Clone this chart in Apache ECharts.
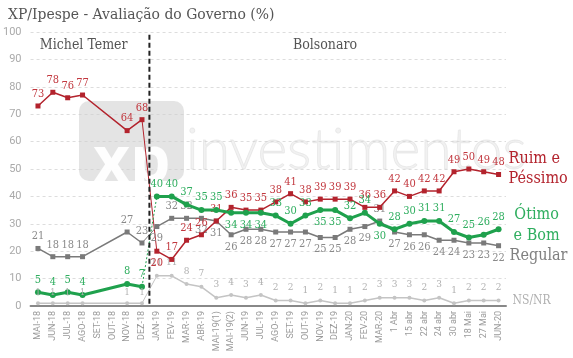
<!DOCTYPE html>
<html><head><meta charset="utf-8">
<script src="https://cdn.jsdelivr.net/npm/echarts@6/dist/echarts.min.js"></script>
<style>html,body{margin:0;padding:0;background:#fff}#c{width:573px;height:358px}</style>
</head><body><div id="c"></div>
<script>
const categories = ["MAI-18","JUN-18","JUL-18","AGO-18","SET-18","OUT-18","NOV-18","DEZ-18",
  "JAN-19","FEV-19","MAR-19","ABR-19","MAI-19(1)","MAI-19(2)","JUN-19","JUL-19","AGO-19","SET-19",
  "OUT-19","NOV-19","DEZ-19","JAN-20","FEV-20","MAR-20","1 Abr","15 abr","22 abr","24 abr","30 abr",
  "18 Mai","27 Mai","JUN-20"];
const yTicks = [0,10,20,30,40,50,60,70,80,90,100];

// Temer period (MAI-18 .. DEZ-18)
const ruimTemer   = [73,78,76,77,null,null,64,68];
const otimoTemer  = [5,4,5,4,null,null,8,7];
const regularTemer= [21,18,18,18,null,null,27,23];
const nsnrTemer   = [1,1,1,1,null,null,1,1];

// Bolsonaro period (JAN-19 .. JUN-20)
const ruimBolso   = [20,17,24,26,31,36,35,35,38,41,38,39,39,39,36,36,42,40,42,42,49,50,49,48];
const otimoBolso  = [40,40,37,35,35,34,34,34,33,30,33,35,35,32,34,30,28,30,31,31,27,25,26,28];
const regularBolso= [29,32,32,32,31,26,28,28,27,27,27,25,25,28,29,31,27,26,26,24,24,23,23,22];
const nsnrBolso   = [11,11,8,7,3,4,3,4,2,2,1,2,1,1,2,3,3,3,2,3,1,2,2,2];

const seriesNames = ["Ruim e\nPéssimo","Ótimo\ne Bom","Regular","NS/NR"];
const periodNames = ["Michel Temer","Bolsonaro"];

const nT = ruimTemer.length, nB = ruimBolso.length;
function temerFull(a){ return a.concat(new Array(nB).fill(null)); }
function bolsoFull(a, posMap){
  const d = new Array(nT).fill(null);
  a.forEach((v,i)=>{ d.push(posMap && posMap[i] ? {value:v,label:posMap[i]} : v); });
  return d;
}
function bridge(t,b){
  const d = new Array(nT+nB).fill(null);
  d[nT-1] = t[t.length-1]; d[nT] = b[0]; return d;
}

const SERIF = "'DejaVu Serif Condensed','Liberation Serif',serif";
const RED='#b3232d', REDL='#c2383f', GRN='#1fa14d', GRNL='#2fae5f', GRY='#7a7a7a', GRYL='#8a8a8a', NS='#c4c4c4', NSL='#b0b0b0';
const TOP={position:'top'}, BOT={position:'bottom'};

function lbl(color,pos,extra){ return Object.assign({show:true,position:pos||'top',color:color,fontSize:11,fontFamily:SERIF,distance:4},extra||{}); }

const chart = echarts.init(document.getElementById('c'));
const option = {
  animation:false,
  title:{text:'XP/Ipespe - Avaliação do Governo (%)',left:3,top:2,textStyle:{fontFamily:SERIF,fontSize:15.5,fontWeight:'normal',color:'#555'}},
  grid:{left:30,right:67,top:32,bottom:52},
  xAxis:{type:'category',data:categories,boundaryGap:true,
    axisLine:{lineStyle:{color:'#888',width:2}},axisTick:{show:false},
    axisLabel:{rotate:90,interval:0,fontSize:9,color:'#9a9a9a',margin:5,fontFamily:"'Liberation Sans Narrow','Roboto',sans-serif"}},
  yAxis:{type:'value',min:0,max:100,interval:10,
    axisLine:{show:false},axisTick:{show:false},
    axisLabel:{color:'#aaa',fontSize:11,margin:9,fontFamily:'Roboto',formatter:v=>yTicks.includes(v)?String(v):''},
    splitLine:{lineStyle:{type:[3,3],color:'#ddd'}}},
  series:[
    // bridges
    {type:'line',data:bridge(ruimTemer,ruimBolso),symbol:'none',lineStyle:{color:RED,width:1},z:3},
    {type:'line',data:bridge(otimoTemer,otimoBolso),symbol:'none',lineStyle:{color:GRN,width:1,type:[2,2]},z:3},
    {type:'line',data:bridge(regularTemer,regularBolso),symbol:'none',lineStyle:{color:GRY,width:1},z:3},
    {type:'line',data:bridge(nsnrTemer,nsnrBolso),symbol:'none',lineStyle:{color:NS,width:1},z:3},
    // Temer
    {type:'line',data:temerFull(nsnrTemer),connectNulls:true,symbol:'circle',symbolSize:4,itemStyle:{color:NS},lineStyle:{color:NS,width:1.5},label:lbl(NSL,'top',{fontSize:9}),labelLayout:{hideOverlap:false},z:8},
    {type:'line',data:temerFull(regularTemer),connectNulls:true,symbol:'rect',symbolSize:5,itemStyle:{color:GRY},lineStyle:{color:GRY,width:1.5},label:lbl(GRYL,'top'),z:5},
    {type:'line',data:temerFull(ruimTemer),connectNulls:true,symbol:'rect',symbolSize:5,itemStyle:{color:RED},lineStyle:{color:RED,width:1.5},label:lbl(REDL,'top'),z:6},
    {type:'line',data:temerFull(otimoTemer),connectNulls:true,symbol:'circle',symbolSize:6,itemStyle:{color:GRN},lineStyle:{color:GRN,width:3},label:lbl(GRNL,'top'),z:7},
    // Bolsonaro
    {type:'line',data:bolsoFull(nsnrBolso),symbol:'circle',symbolSize:4,itemStyle:{color:NS},lineStyle:{color:NS,width:1.5},label:lbl(NSL,'top',{fontSize:10,distance:6}),z:4,
      endLabel:{show:true,formatter:seriesNames[3],color:NSL,fontSize:12,fontFamily:SERIF,offset:[6,0]}},
    {type:'line',data:bolsoFull(regularBolso,{1:TOP,2:TOP,15:TOP}),symbol:'rect',symbolSize:5,itemStyle:{color:GRY},lineStyle:{color:GRY,width:1.5},label:lbl(GRYL,'bottom'),z:5,
      endLabel:{show:true,formatter:seriesNames[2],color:'#808080',fontSize:16,fontFamily:SERIF,offset:[3,10]}},
    {type:'line',data:bolsoFull(ruimBolso,{0:BOT,4:{position:'top',offset:[-5,0]}}),symbol:'rect',symbolSize:5,itemStyle:{color:RED},lineStyle:{color:RED,width:1.5},label:lbl(REDL,'top'),labelLayout:{hideOverlap:false},z:6,
      endLabel:{show:true,formatter:seriesNames[0],color:RED,fontSize:16,lineHeight:20,fontFamily:SERIF,offset:[2,-6]}},
    {type:'line',data:bolsoFull(otimoBolso,{5:BOT,6:BOT,7:BOT,11:BOT,12:BOT,15:BOT}),symbol:'circle',symbolSize:6,itemStyle:{color:GRN},lineStyle:{color:GRN,width:3},label:lbl(GRNL,'top'),z:7,
      endLabel:{show:true,formatter:seriesNames[1],color:GRNL,fontSize:16,lineHeight:21,align:'center',fontFamily:SERIF,offset:[30,-4]}}
  ]
};
chart.setOption(option);

// separator & period labels via the chart's scales
const xL = chart.convertToPixel({xAxisIndex:0}, nT-1);
const xR = chart.convertToPixel({xAxisIndex:0}, nT);
const xSep = (xL+xR)/2;
const y0 = chart.convertToPixel({yAxisIndex:0}, 0);
const yTop = chart.convertToPixel({yAxisIndex:0}, 99);
const yLab = chart.convertToPixel({yAxisIndex:0}, 95);
const xFirst = chart.convertToPixel({xAxisIndex:0}, 0);
const xLast = chart.convertToPixel({xAxisIndex:0}, categories.length-1);
chart.setOption({graphic:[
  {type:'rect',shape:{x:79,y:101,width:105,height:80,r:10},style:{fill:'rgba(205,205,205,0.55)'},z:0,silent:true},
  {type:'text',x:93,y:132,style:{text:'xp',fill:'rgba(255,255,255,0.95)',font:"bold 64px 'Open Sans',sans-serif"},z:0,silent:true},
  {type:'text',x:186,y:122,style:{text:'investimentos',fill:'rgba(215,215,215,0.35)',stroke:'rgba(200,200,200,0.35)',lineWidth:0.8,font:"300 57px 'Lato',sans-serif"},z:0,silent:true},
  {type:'line',shape:{x1:xSep,y1:yTop,x2:xSep,y2:y0},style:{stroke:'#222',lineWidth:2,lineDash:[5,3]},z:10},
  {type:'text',x:(xFirst+xSep)/2-10,y:yLab,style:{text:periodNames[0],fill:'#555',font:"14px "+SERIF,textAlign:'center',textVerticalAlign:'middle'},z:10},
  {type:'text',x:(xSep+xLast)/2+1,y:yLab,style:{text:periodNames[1],fill:'#555',font:"14px "+SERIF,textAlign:'center',textVerticalAlign:'middle'},z:10}
]});
</script></body></html>
